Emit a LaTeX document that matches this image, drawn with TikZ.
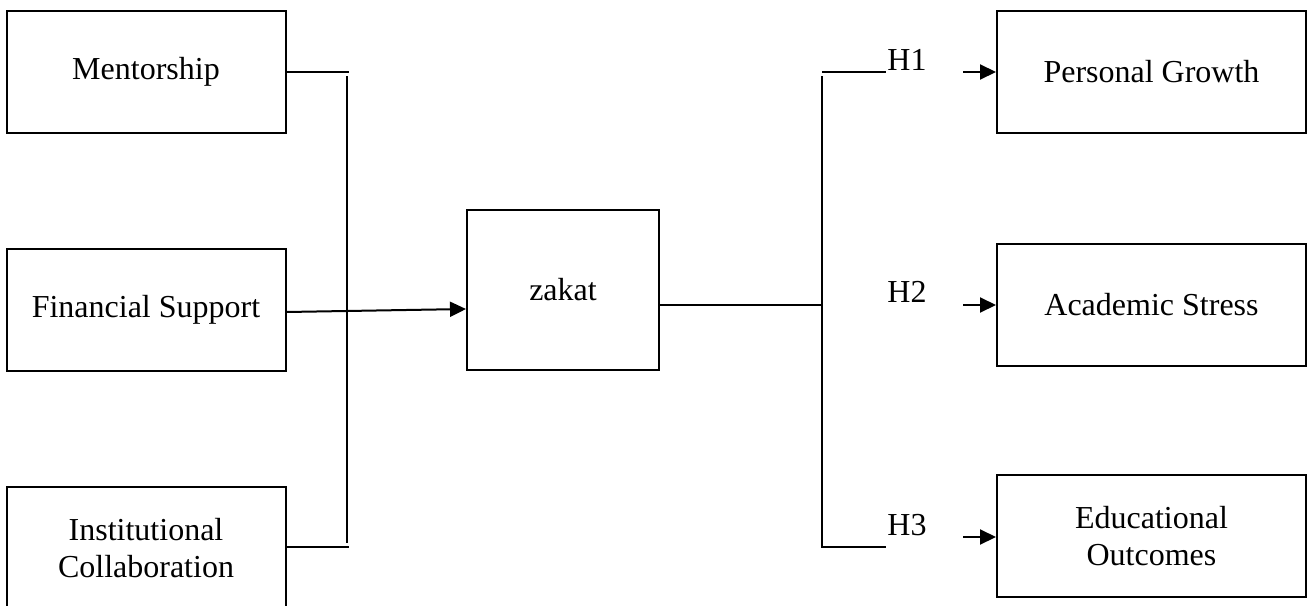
\documentclass[tikz,border=0pt]{standalone}
\usepackage{fontspec}
\setmainfont{Liberation Serif}
\usetikzlibrary{arrows.meta,calc}

\begin{document}
\begin{tikzpicture}[x=1pt,y=-1pt,
  box/.style={draw, line width=2pt, inner sep=0pt, align=center,
    font=\fontsize{32}{37}\selectfont},
  leftbox/.style={box, minimum width=279pt, minimum height=122pt},
  rightbox/.style={box, minimum width=309pt, minimum height=122pt},
  link/.style={line width=2pt},
  tip/.style={link, -{Triangle[length=16pt,width=15pt]}},
  hyp/.style={font=\fontsize{32}{37}\selectfont, inner sep=0pt}]
\useasboundingbox (0,0) rectangle (1309,605);
\clip (0,0) rectangle (1309,605);

% independent variables
\node[leftbox] (ment) at (146,72)    {Mentorship};
\node[leftbox] (fin)  at (146,309.5) {Financial Support};
\node[leftbox] (inst) at (146,548)   {Institutional\\Collaboration};

% mediator
\node[box, minimum width=192pt, minimum height=160pt] (zakat) at (563,290) {zakat};

% outcomes
\node[rightbox] (pg) at (1151.5,72)  {Personal Growth};
\node[rightbox] (as) at (1151.5,305) {Academic Stress};
\node[rightbox] (eo) at (1151.5,536) {Educational\\Outcomes};

% hypothesis labels
\node[hyp] (h1) at (907,60)  {H1};
\node[hyp] (h2) at (907,292) {H2};
\node[hyp] (h3) at (907,525) {H3};

% left bracket
\coordinate (lTop)  at (349,72);
\coordinate (lBot)  at (349,547);
\coordinate (lBusA) at (347,76);
\coordinate (lBusB) at (347,543);
\draw[link] (ment.east) -- (lTop);
\draw[link] ($(inst.east)+(0,-1)$) -- (lBot);
\draw[link] (lBusA) -- (lBusB);
\draw[tip] ($(fin.east)+(0,2.5)$) -- ($(zakat.west)+(0,19)$);

% right bracket
\coordinate (rMid)  at (822,305);
\coordinate (rTopA) at (822,76);
\coordinate (rTopB) at (822,72);
\coordinate (rTopC) at (886,72);
\coordinate (rBotA) at (822,547);
\coordinate (rBotB) at (886,547);
\draw[link] ($(zakat.east)+(0,15)$) -- (rMid);
\draw[link] (rTopB) -- (rTopC);
\draw[link] (rTopA) -- (rBotA) -- (rBotB);

% hypothesis arrows
\coordinate (a1) at (963,72);
\coordinate (a2) at (963,305);
\coordinate (a3) at (963,537);
\draw[tip] (a1) -- (pg.west);
\draw[tip] (a2) -- (as.west);
\draw[tip] (a3) -- ($(eo.west)+(0,1)$);
\end{tikzpicture}
\end{document}
